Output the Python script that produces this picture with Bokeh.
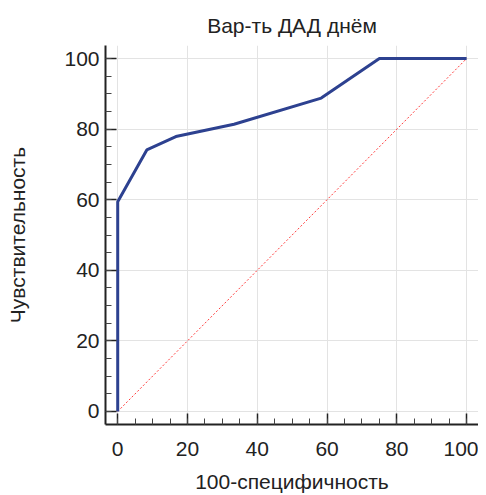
from bokeh.plotting import figure
from bokeh.models import Range1d, FixedTicker
from bokeh.embed import file_html
from bokeh.resources import INLINE

fpr = [0, 0, 8.33, 16.67, 33.33, 58.33, 75, 100]
tpr = [0, 59.4, 74.1, 77.9, 81.4, 88.8, 100, 100]
diag_x = [0, 100]
diag_y = [0, 100]
ticks = [0, 20, 40, 60, 80, 100]
minor = [v for v in range(0, 101, 5)]

FONT = "Liberation Sans"

p = figure(width=478, height=495, output_backend="svg", toolbar_location=None,
           x_range=Range1d(-3.5, 103.4), y_range=Range1d(-3.7, 103.7),
           title="Вар-ть ДАД днём", min_border_left=105, min_border_right=0,
           min_border_top=45, min_border_bottom=70)
p.outline_line_color = None
p.title.align = "center"
p.title.text_font = FONT
p.title.text_font_size = "21px"
p.title.text_font_style = "normal"
p.title.text_color = "#222222"
p.title.standoff = 18

p.line(diag_x, diag_y, line_color="#ff3b3b", line_width=1, line_dash="2 2")
p.line(fpr, tpr, line_color="#2d4190", line_width=3)

for ax, lab in ((p.xaxis, "100-специфичность"), (p.yaxis, "Чувствительность")):
    ax.axis_label = lab
    ax.ticker = FixedTicker(ticks=ticks, minor_ticks=minor)
    ax.axis_label_text_font = FONT
    ax.axis_label_text_font_size = "21px"
    ax.axis_label_text_font_style = "normal"
    ax.axis_label_text_color = "#222222"
    ax.major_label_text_font = FONT
    ax.major_label_text_font_size = "21px"
    ax.major_label_text_color = "#222222"
    ax.axis_line_width = 2
    ax.axis_line_color = "#222222"
    ax.major_tick_in = 11
    ax.major_tick_out = 0
    ax.minor_tick_in = 6
    ax.minor_tick_out = 0
    ax.major_tick_line_width = 1.5
    ax.minor_tick_line_width = 1
    ax.major_tick_line_color = "#222222"
    ax.minor_tick_line_color = "#444444"

p.xaxis.major_label_standoff = 17
p.xaxis.axis_label_standoff = 11
p.yaxis.major_label_standoff = 6
p.yaxis.axis_label_standoff = 32

p.xgrid.grid_line_color = "#e3e3e3"
p.ygrid.grid_line_color = "#e3e3e3"

open("out.html", "w").write(file_html(p, INLINE))
